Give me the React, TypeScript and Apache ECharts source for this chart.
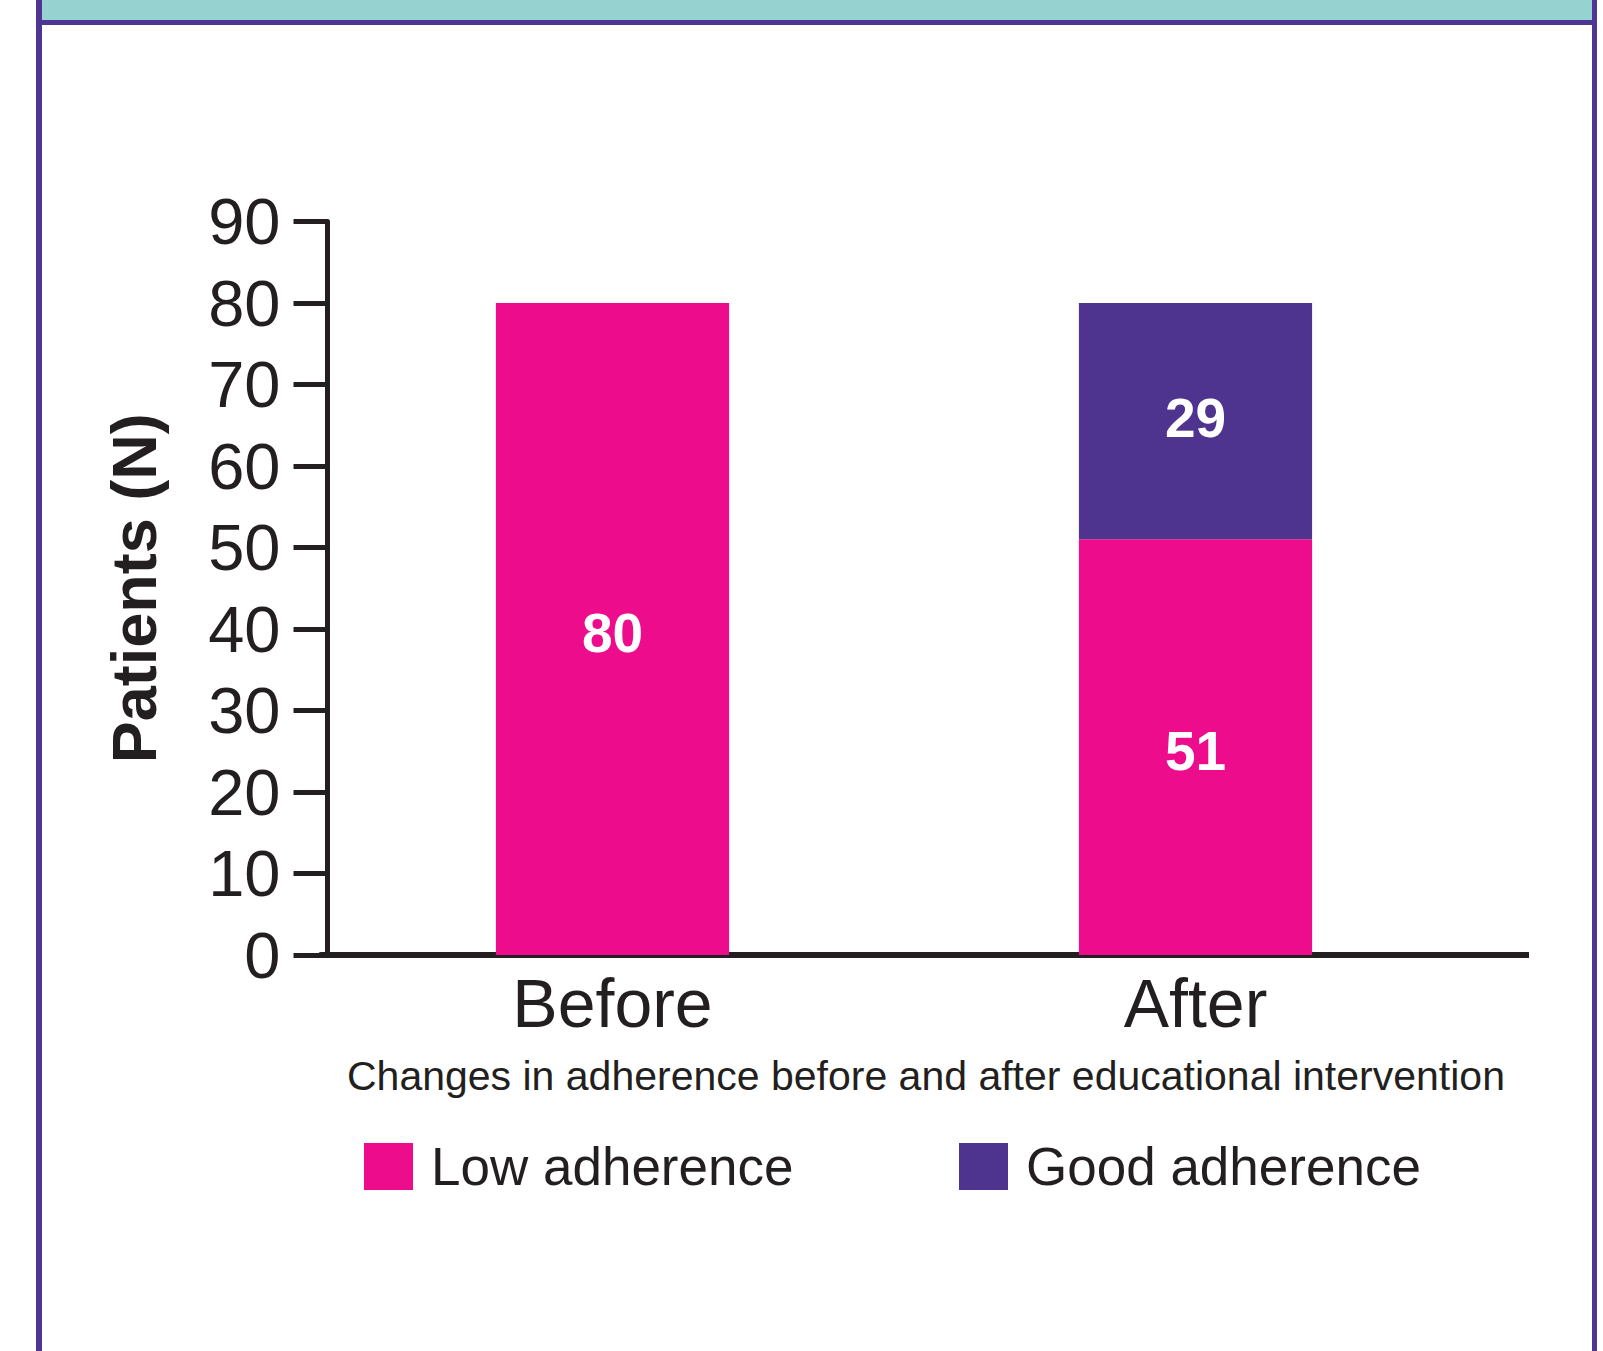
import React, { useEffect, useRef } from "react";
import * as echarts from "echarts";

const categories = ["Before", "After"];
const lowAdherence = [80, 51];
const goodAdherence: (number | null)[] = [null, 29];
const yTicks = { min: 0, max: 90, interval: 10 };
const subtitle = "Changes in adherence before and after educational intervention";
const yTitle = "Patients (N)";

const PINK = "#EC0C8C";
const PURPLE = "#4E338F";
const FRAME = "#4F3592";
const TEAL = "#96D3D0";
const INK = "#231F20";
const FONT = "Liberation Sans, Arial, Helvetica, sans-serif";

export default function App() {
  const ref = useRef<HTMLDivElement>(null);
  useEffect(() => {
    if (!ref.current) return;
    const chart = echarts.init(ref.current, null, { renderer: "svg" });
    chart.setOption({
      animation: false,
      backgroundColor: "#ffffff",
      textStyle: { fontFamily: FONT },
      title: {
        text: subtitle,
        left: 347,
        top: 1055,
        padding: 0,
        textStyle: { fontSize: 41, fontWeight: "normal", color: INK, fontFamily: FONT },
      },
      legend: [
        {
          data: ["Low adherence"],
          left: 364,
          top: 1140,
          padding: 0,
          itemWidth: 49,
          itemHeight: 47,
          icon: "rect",
          textStyle: { fontSize: 53, color: INK, fontFamily: FONT, padding: [0, 0, 0, 13] },
        },
        {
          data: ["Good adherence"],
          left: 959,
          top: 1140,
          padding: 0,
          itemWidth: 49,
          itemHeight: 47,
          icon: "rect",
          textStyle: { fontSize: 53, color: INK, fontFamily: FONT, padding: [0, 0, 0, 13] },
        },
      ],
      grid: { left: 321, right: 116, top: 221.5, bottom: 396, containLabel: false },
      xAxis: {
        type: "category",
        data: categories,
        axisLine: { show: true, lineStyle: { color: INK, width: 6 } },
        axisTick: { show: false },
        axisLabel: { color: INK, fontSize: 68, margin: 14, fontFamily: FONT },
      },
      yAxis: {
        type: "value",
        min: yTicks.min,
        max: yTicks.max,
        interval: yTicks.interval,
        offset: -6.5,
        name: yTitle,
        nameLocation: "middle",
        nameGap: 162,
        nameRotate: 90,
        nameTextStyle: { fontSize: 63, fontWeight: "bold", color: INK, fontFamily: FONT },
        splitLine: { show: false },
        axisLine: { show: true, lineStyle: { color: INK, width: 5 } },
        axisTick: { show: true, inside: false, length: 34, lineStyle: { color: INK, width: 5 } },
        axisLabel: { color: INK, fontSize: 65, margin: 47, fontFamily: FONT },
      },
      series: [
        {
          name: "Low adherence",
          type: "bar",
          stack: "total",
          data: lowAdherence,
          barWidth: "40%",
          itemStyle: { color: PINK },
          label: { show: true, position: "inside", offset: [0, 4], color: "#fff", fontSize: 55, fontWeight: "bold", fontFamily: FONT },
        },
        {
          name: "Good adherence",
          type: "bar",
          stack: "total",
          data: goodAdherence,
          barWidth: "40%",
          itemStyle: { color: PURPLE },
          label: { show: true, position: "inside", offset: [0, -3], color: "#fff", fontSize: 55, fontWeight: "bold", fontFamily: FONT },
        },
      ],
      graphic: [
        { type: "rect", shape: { x: 36, y: 0, width: 1561, height: 22 }, style: { fill: TEAL }, z: 100 },
        { type: "rect", shape: { x: 36, y: 20, width: 1561, height: 5 }, style: { fill: FRAME }, z: 101 },
        { type: "rect", shape: { x: 36, y: 0, width: 6, height: 1351 }, style: { fill: FRAME }, z: 101 },
        { type: "rect", shape: { x: 1592, y: 0, width: 5, height: 1351 }, style: { fill: FRAME }, z: 101 },
        {
          type: "line",
          shape: { x1: 1480, y1: 955, x2: 1529, y2: 955 },
          style: { stroke: INK, lineWidth: 6 },
          z: 50,
        },
      ],
    });
    return () => chart.dispose();
  }, []);
  return (
    <div
      ref={ref}
      style={{ position: "absolute", left: 0, top: 0, width: 1603, height: 1351 }}
    />
  );
}
